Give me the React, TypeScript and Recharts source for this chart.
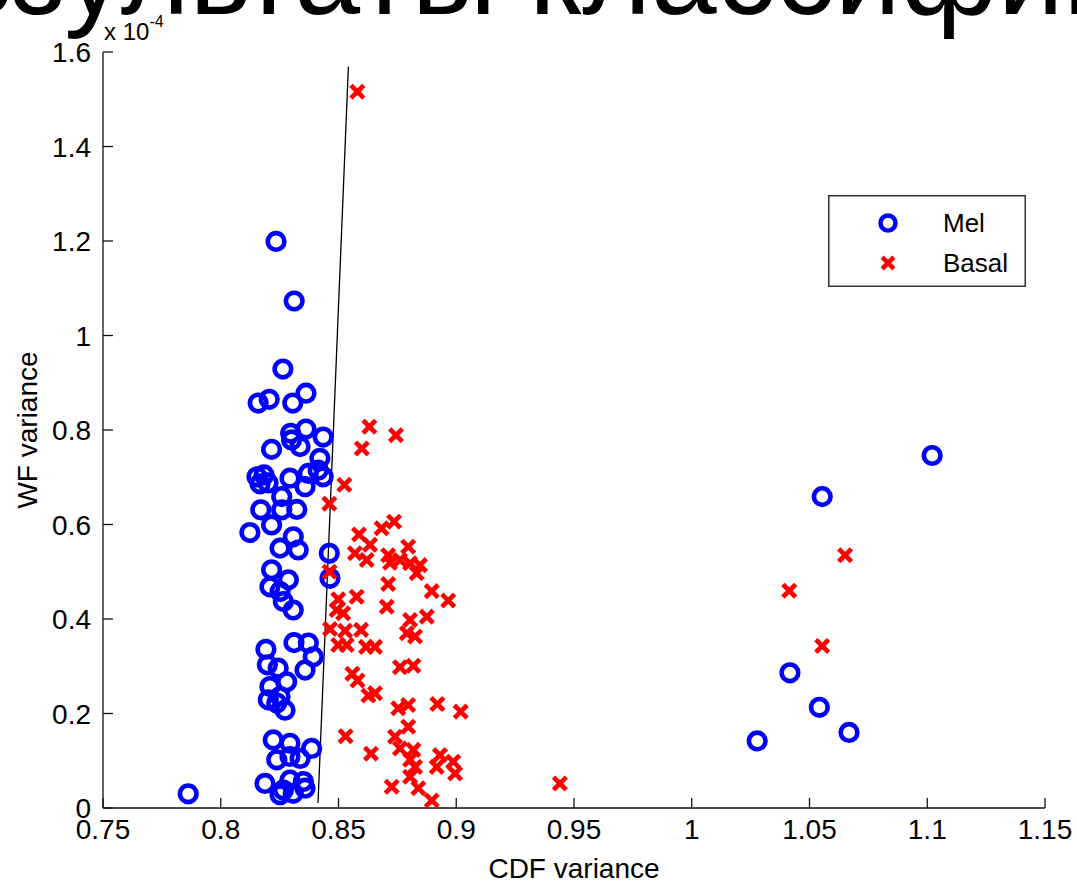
import React from 'react';
import { ScatterChart, Scatter, XAxis, YAxis, ReferenceLine, Legend, Label } from 'recharts';

const FONT = "'Liberation Sans', Arial, Helvetica, sans-serif";

const titleText = 'Результаты классификации';
const xAxisTitle = 'CDF variance';
const yAxisTitle = 'WF variance';
const yExponent = '-4';
const legendOrder = ['Mel', 'Basal'];

const xTicks = [0.75, 0.8, 0.85, 0.9, 0.95, 1, 1.05, 1.1, 1.15];
const xTickLabels = ['0.75', '0.8', '0.85', '0.9', '0.95', '1', '1.05', '1.1', '1.15'];
const yTicks = [0, 0.2, 0.4, 0.6, 0.8, 1, 1.2, 1.4, 1.6];
const yTickLabels = ['0', '0.2', '0.4', '0.6', '0.8', '1', '1.2', '1.4', '1.6'];

// Mel (WF variance in units of 1e-4)
const melCdf = [
  0.8235, 0.8312, 0.8264, 0.8362, 0.8159, 0.8206, 0.8306, 0.8362, 0.8297, 0.8435,
  0.8216, 0.8337, 0.8301, 0.8421, 0.8435, 0.8372, 0.8358, 0.8294, 0.8154, 0.8184,
  0.8201, 0.8167, 0.8414, 0.8259, 0.8170, 0.8323, 0.8259, 0.8216, 0.8124, 0.8308,
  0.8252, 0.8329, 0.8461, 0.8464, 0.8216, 0.8287, 0.8209, 0.8252, 0.8266, 0.8308,
  0.8192, 0.8311, 0.8372, 0.8393, 0.8358, 0.8198, 0.8244, 0.8280, 0.8209, 0.8202,
  0.8252, 0.8273, 0.8238, 0.8223, 0.8294, 0.8386, 0.8238, 0.8294, 0.8337, 0.8188,
  0.8294, 0.8351, 0.8266, 0.8308, 0.8358, 0.8252, 0.7862, 1.1021, 1.0554, 1.0417,
  1.0542, 1.0668, 1.0278,
];
const melWf = [
  1.199, 1.073, 0.929, 0.878, 0.857, 0.865, 0.857, 0.802, 0.793, 0.785,
  0.759, 0.765, 0.779, 0.740, 0.701, 0.708, 0.680, 0.698, 0.701, 0.705,
  0.688, 0.686, 0.715, 0.659, 0.631, 0.632, 0.631, 0.599, 0.583, 0.574,
  0.550, 0.546, 0.539, 0.486, 0.504, 0.483, 0.468, 0.458, 0.437, 0.419,
  0.336, 0.350, 0.349, 0.320, 0.292, 0.303, 0.296, 0.267, 0.257, 0.229,
  0.236, 0.207, 0.222, 0.144, 0.137, 0.126, 0.102, 0.109, 0.105, 0.052,
  0.059, 0.056, 0.038, 0.031, 0.042, 0.028, 0.030, 0.746, 0.659, 0.286,
  0.213, 0.160, 0.142,
];

// Basal
const basalCdf = [
  0.8580, 0.8631, 0.8744, 0.8599, 0.8525, 0.8461, 0.8736, 0.8683, 0.8587, 0.8634,
  0.8570, 0.8620, 0.8711, 0.8796, 0.8761, 0.8804, 0.8846, 0.8719, 0.8832, 0.8711,
  0.8896, 0.8462, 0.8966, 0.8499, 0.8577, 0.8492, 0.8520, 0.8705, 0.8464, 0.8528,
  0.8596, 0.8499, 0.8535, 0.8617, 0.8655, 0.8804, 0.8875, 0.8790, 0.8825, 0.8761,
  0.8818, 0.8559, 0.8581, 0.8627, 0.8655, 0.8754, 0.8796, 0.8920, 0.9019, 0.8796,
  0.8740, 0.8530, 0.8761, 0.8818, 0.8638, 0.8931, 0.8804, 0.8825, 0.8917, 0.8987,
  0.8995, 0.8804, 0.8726, 0.8839, 0.8896, 0.9440, 1.0651, 1.0414, 1.0554,
];
const basalWf = [
  1.516, 0.807, 0.789, 0.761, 0.684, 0.644, 0.606, 0.592, 0.579, 0.557,
  0.539, 0.525, 0.535, 0.553, 0.525, 0.518, 0.514, 0.519, 0.497, 0.474,
  0.459, 0.500, 0.439, 0.442, 0.447, 0.419, 0.412, 0.426, 0.379, 0.375,
  0.377, 0.345, 0.345, 0.341, 0.341, 0.398, 0.405, 0.370, 0.363, 0.298,
  0.301, 0.284, 0.270, 0.238, 0.243, 0.211, 0.218, 0.220, 0.204, 0.172,
  0.151, 0.152, 0.126, 0.123, 0.115, 0.112, 0.102, 0.087, 0.087, 0.098,
  0.073, 0.066, 0.045, 0.042, 0.016, 0.052, 0.535, 0.460, 0.343,
];

// Decision boundary endpoints
const boundaryCdf = [0.8413, 0.8542];
const boundaryWf = [0.0106, 1.569];

const melData = melCdf.map((x, i) => ({ x, y: melWf[i] }));
const basalData = basalCdf.map((x, i) => ({ x, y: basalWf[i] }));

const BLUE = '#0000FF';
const RED = '#FF0000';
const TICK_MARGIN = 8;

const findLabel = (ticks: number[], labels: string[], v: number) => {
  const i = ticks.findIndex((t) => Math.abs(t - v) < 1e-9);
  return i >= 0 ? labels[i] : String(v);
};

const XTick = (props: any) => {
  const { x, y, payload } = props;
  const axisY = y - TICK_MARGIN;
  return (
    <g>
      <line x1={x} x2={x} y1={axisY} y2={axisY - 10} stroke="#111" strokeWidth={1.3} />
      <text x={x} y={axisY + 31} textAnchor="middle" fontSize={28} fill="#000" fontFamily={FONT}>
        {findLabel(xTicks, xTickLabels, payload.value)}
      </text>
    </g>
  );
};

const YTick = (props: any) => {
  const { x, y, payload } = props;
  const axisX = x + TICK_MARGIN;
  return (
    <g>
      <line x1={axisX} x2={axisX + 10} y1={y} y2={y} stroke="#111" strokeWidth={1.3} />
      <text x={axisX - 12} y={y + 10} textAnchor="end" fontSize={28} fill="#000" fontFamily={FONT}>
        {findLabel(yTicks, yTickLabels, payload.value)}
      </text>
    </g>
  );
};

const MelShape = (p: any) => (
  <circle cx={p.cx} cy={p.cy} r={8.3} fill="none" stroke={BLUE} strokeWidth={4.6} />
);

const crossPath = (cx: number, cy: number, s: number) =>
  `M${cx - s},${cy - s}L${cx + s},${cy + s}M${cx - s},${cy + s}L${cx + s},${cy - s}`;

const BasalShape = (p: any) => (
  <path d={crossPath(p.cx, p.cy, 4.7)} stroke={RED} strokeWidth={4.7} strokeLinecap="square" fill="none" />
);

const LegendBox = (props: any) => {
  const payload = [...(props.payload || [])].sort(
    (a: any, b: any) => legendOrder.indexOf(a.value) - legendOrder.indexOf(b.value)
  );
  return (
    <svg width={198} height={92} style={{ display: 'block' }}>
      <rect x={0.75} y={0.75} width={196.5} height={90.5} fill="#fff" stroke="#333" strokeWidth={1.5} />
      {payload.map((entry: any, i: number) => {
        const cy = 28 + i * 40;
        return (
          <g key={i}>
            {entry.value === 'Mel' ? (
              <circle cx={60} cy={cy} r={7.5} fill="none" stroke={BLUE} strokeWidth={4.5} />
            ) : (
              <path d={crossPath(60, cy, 4.2)} stroke={RED} strokeWidth={4.5} strokeLinecap="square" fill="none" />
            )}
            <text x={115} y={cy + 9} fontSize={26} fontFamily={FONT} fill="#000">
              {entry.value}
            </text>
          </g>
        );
      })}
    </svg>
  );
};

export default function App() {
  return (
    <div style={{ position: 'absolute', left: 0, top: 0, width: 1077, height: 883, overflow: 'hidden', background: '#fff' }}>
      <ScatterChart width={1077} height={883} margin={{ top: 52, right: 32, bottom: 0, left: 0 }}>
        <XAxis
          type="number"
          dataKey="x"
          domain={[0.75, 1.15]}
          ticks={xTicks}
          interval={0}
          height={75}
          tickSize={0}
          tickMargin={TICK_MARGIN}
          tickLine={false}
          axisLine={{ stroke: '#111', strokeWidth: 1.3 }}
          tick={<XTick />}
          allowDataOverflow
        >
          <Label
            content={(p: any) => {
              const vb = p.viewBox;
              return (
                <text x={vb.x + vb.width / 2} y={vb.y + 70} textAnchor="middle" fontSize={28} fontFamily={FONT} fill="#000">
                  {xAxisTitle}
                </text>
              );
            }}
          />
        </XAxis>
        <YAxis
          type="number"
          dataKey="y"
          domain={[0, 1.6]}
          ticks={yTicks}
          interval={0}
          width={103}
          tickSize={0}
          tickMargin={TICK_MARGIN}
          tickLine={false}
          axisLine={{ stroke: '#111', strokeWidth: 1.3 }}
          tick={<YTick />}
          allowDataOverflow
        >
          <Label
            content={(p: any) => {
              const vb = p.viewBox;
              const cx = 37;
              const cy = vb.y + vb.height / 2;
              return (
                <text x={cx} y={cy} transform={`rotate(-90 ${cx} ${cy})`} textAnchor="middle" fontSize={28} fontFamily={FONT} fill="#000">
                  {yAxisTitle}
                </text>
              );
            }}
          />
          <Label
            content={(p: any) => {
              const vb = p.viewBox;
              const x0 = vb.x + vb.width + 1;
              return (
                <text x={x0} y={40} fontSize={24} fontFamily={FONT} fill="#000">
                  x 10
                  <tspan fontSize={16} dy={-13}>{yExponent}</tspan>
                </text>
              );
            }}
          />
        </YAxis>
        <Scatter name="Mel" data={melData} fill={BLUE} shape={<MelShape />} isAnimationActive={false} />
        <Scatter name="Basal" data={basalData} fill={RED} shape={<BasalShape />} isAnimationActive={false} />
        <ReferenceLine
          segment={[
            { x: boundaryCdf[0], y: boundaryWf[0] },
            { x: boundaryCdf[1], y: boundaryWf[1] },
          ]}
          stroke="#000"
          strokeWidth={1.3}
          ifOverflow="visible"
        />
        <Legend
          layout="vertical"
          align="center"
          verticalAlign="middle"
          content={<LegendBox />}
          wrapperStyle={{ position: 'absolute', left: 828, top: 195, width: 198, height: 92 }}
        />
      </ScatterChart>
      <svg width={1077} height={883} style={{ position: 'absolute', left: 0, top: 0, pointerEvents: 'none' }}>
        <text x={-125} y={14} fontSize={118} fontFamily={FONT} fill="#000">
          {titleText}
        </text>
      </svg>
    </div>
  );
}
